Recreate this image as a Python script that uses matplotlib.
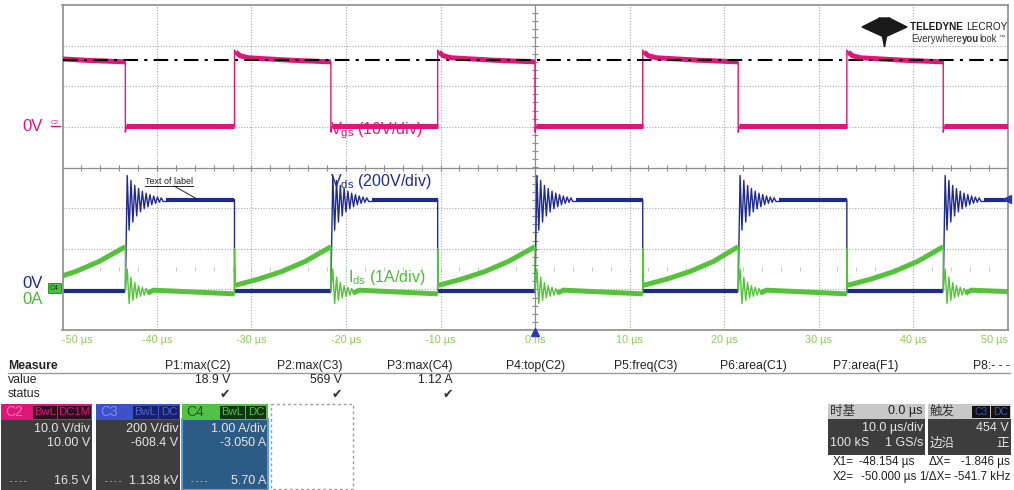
import numpy as np
import matplotlib
matplotlib.use('Agg')
import matplotlib.pyplot as plt
from matplotlib.patches import Rectangle, Polygon

plt.rcParams['font.family'] = ['Liberation Sans', 'DejaVu Sans']

## scope settings ##
ch_vdiv = {'C2': 10.0, 'C3': 200.0, 'C4': 1.0}
ch_offset = {'C2': 10.0, 'C3': -608.4, 'C4': -3.05}

time_ticks = [-50, -40, -30, -20, -10, 0, 10, 20, 30, 40, 50]
time_labels = ['-50 µs', '-40 µs', '-30 µs', '-20 µs', '-10 µs', '0 ns',
               '10 µs', '20 µs', '30 µs', '40 µs', '50 µs']

# switching edges in µs (Vds rise = turn-off, Vds fall = turn-on)
vds_fall = [-53.6, -31.8, -10.3, 11.4, 33.0]
vds_rise = [-43.35, -21.6, 0.0, 21.5, 43.2]

# Vgs (V) while on, time after turn-on (µs)
vgs_on_t = [0.0, 0.15, 0.6, 1.5, 3.0, 6.0]
vgs_on_v = [18.9, 18.4, 17.5, 17.0, 16.8, 16.4]
vgs_on_end = 16.0
vgs_off_level = 0.1
vgs_off_dip = -1.3
vgs_top = 16.5

# Vds (V): ringing after turn-off, one value every 0.2 µs, then plateau
vds_high = 450.0
vds_ring = [569, 300, 545, 340, 520, 370, 505, 390, 492, 405, 482, 415, 475,
            425, 468, 432, 463, 437, 459, 441]
ring_step = 0.2

# Ids (A): ramp while on, ringing after turn-off
ids_spike = 1.05
ids_ramp_t = [0.08, 2.5, 5.0, 7.5]
ids_ramp_v = [0.15, 0.30, 0.49, 0.74]
ids_peak = 1.10
ids_ring = [0.55, -0.30, 0.35, -0.22, 0.22, -0.16, 0.14, -0.12, 0.10, -0.09,
            0.07, -0.07]
ids_off_start = 0.03
ids_off_end = -0.06

# measurement table
meas_names = ['P1:max(C2)', 'P2:max(C3)', 'P3:max(C4)', 'P4:top(C2)',
              'P5:freq(C3)', 'P6:area(C1)', 'P7:area(F1)', 'P8:- - -']
meas_values = ['18.9 V', '569 V', '1.12 A', '', '', '', '', '']


def to_div(values, ch):
    return [(v + ch_offset[ch]) / ch_vdiv[ch] for v in values]


# thin = whole trace incl. edges and ringing, bands = noisy flat/ramp parts
traces = {k: {'t': [], 'v': [], 'bands': []} for k in ('vgs', 'vds', 'ids')}


def add(name, ts, vs):
    traces[name]['t'] += list(ts)
    traces[name]['v'] += list(vs)


def band(name, ts, vs):
    traces[name]['bands'].append((list(ts), list(vs)))


for i, (tf, tr) in enumerate(zip(vds_fall, vds_rise)):
    tn = vds_fall[i + 1] if i + 1 < len(vds_fall) else 56.0
    ring_end = tr + ring_step * len(vds_ring)
    iring_end = tr + ring_step * len(ids_ring)
    # gate
    on_t = [tf + r for r in vgs_on_t if tf + r < tr] + [tr]
    on_v = vgs_on_v[:len(on_t) - 1] + [vgs_on_end]
    add('vgs', [tf] + on_t + [tr, tr + 0.12, tn],
        [vgs_off_level] + on_v + [vgs_off_dip, vgs_off_level, vgs_off_level])
    band('vgs', on_t[1:], on_v[1:])
    band('vgs', [tr + 0.12, tn], [vgs_off_level, vgs_off_level])
    # drain voltage
    rt = [tr + ring_step * (k + 1) for k in range(len(vds_ring))]
    add('vds', [tf, tf, tr, tr] + rt + [tn], [vds_high, 0.0, 0.0, 0.0] + vds_ring + [vds_high])
    band('vds', [tf, tr], [0.0, 0.0])
    band('vds', [ring_end + 0.3, tn], [vds_high, vds_high])
    # drain current
    ramp_t = [tf + r for r in ids_ramp_t] + [tr]
    ramp_v = ids_ramp_v + [ids_peak]
    it = [tr + ring_step * (k + 1) for k in range(len(ids_ring))]
    add('ids', [tf, tf] + ramp_t + [tr] + it + [tr + 3.0, tn],
        [ids_off_end, ids_spike] + ramp_v + [0.0] + ids_ring + [ids_off_start, ids_off_end])
    band('ids', ramp_t, ramp_v)
    band('ids', [iring_end, tr + 3.0, tn], [ids_ring[-1] * 0.5, ids_off_start, ids_off_end])

W, H = 1014, 490
fig = plt.figure(figsize=(W / 100, H / 100), dpi=100)
fig.patch.set_facecolor('white')

x0, x1, y0, y1 = 62.5, 1007.5, 5, 330
ax = fig.add_axes([x0 / W, 1 - y1 / H, (x1 - x0) / W, (y1 - y0) / H])
ax.set_xlim(-50, 50)
ax.set_ylim(-4, 4)
ax.set_xticks([])
ax.set_yticks([])
for sp in ax.spines.values():
    sp.set_color('#8c8c8c')
    sp.set_linewidth(1.2)

# grid
for gx in range(-40, 50, 10):
    if gx != 0:
        ax.axvline(gx, color='#a8a8a8', lw=0.8, ls=(0, (1, 1.5)), zorder=1)
for gy in range(-3, 4):
    if gy != 0:
        ax.axhline(gy, color='#a8a8a8', lw=0.8, ls=(0, (1, 1.5)), zorder=1)
ax.axvline(0, color='#8c8c8c', lw=0.9, zorder=1)
ax.axhline(0, color='#8c8c8c', lw=0.9, zorder=1)
xt = np.arange(-48, 50, 2)
ax.plot(xt, np.zeros_like(xt), ls='none', marker='|', ms=5, mew=0.8, color='#8c8c8c', zorder=1)
yt = np.arange(-3.8, 4.0, 0.2)
ax.plot(np.zeros_like(yt), yt, ls='none', marker='_', ms=5, mew=0.8, color='#8c8c8c', zorder=1)
ax.plot(xt, np.full_like(xt, -2.5, dtype=float), ls='none', marker='|', ms=2.5, mew=0.7,
        color='#c8c8c8', zorder=1)

# traces
colors = {'vgs': '#e0157a', 'vds': '#1f2b8c', 'ids': '#56c23c'}
chans = {'vgs': 'C2', 'vds': 'C3', 'ids': 'C4'}
zs = {'vgs': 3, 'vds': 2, 'ids': 2.5}
band_lw = {'vgs': 3.6, 'vds': 3.0, 'ids': 3.6}
for name, tr_ in traces.items():
    ax.plot(tr_['t'], to_div(tr_['v'], chans[name]), color=colors[name], lw=1.0, zorder=zs[name])
    for bt, bv in tr_['bands']:
        ax.plot(bt, to_div(bv, chans[name]), color=colors[name], lw=band_lw[name],
                solid_capstyle='butt', zorder=zs[name])
ax.axhline(to_div([vgs_top], 'C2')[0], color='black', lw=1.5, ls=(0, (7, 3, 1.5, 3)), zorder=4)

# overlay in pixel coordinates
ov = fig.add_axes([0, 0, 1, 1], zorder=5)
ov.set_xlim(0, W)
ov.set_ylim(H, 0)
ov.axis('off')
ov.patch.set_alpha(0)
renderer = fig.canvas.get_renderer()


def box(xa, ya, xb, yb, fc, ec='none', lw=0, ls='-'):
    ov.add_patch(Rectangle((xa, ya), xb - xa, yb - ya, facecolor=fc, edgecolor=ec,
                           linewidth=lw, linestyle=ls))


def txt(x, y, s, ha='left', size=8.8, color='#222222', **kw):
    return ov.text(x, y, s, ha=ha, va='center', fontsize=size, color=color, **kw)


def fit_row(x, y, width, pieces, color):
    # pieces: (text, weight) drawn one after another and scaled to width
    arts = [txt(x, y, s, size=10, color=color, weight=w) for s, w in pieces]
    widths = [a.get_window_extent(renderer).width for a in arts]
    scale = width / sum(widths)
    cx = x
    for a, w in zip(arts, widths):
        a.set_fontsize(10 * scale)
        a.set_x(cx)
        cx += w * scale


# time labels
for t, lab in zip(time_ticks, time_labels):
    ha = 'left' if t == time_ticks[0] else 'right' if t == time_ticks[-1] else 'center'
    txt(x0 + (t + 50) * (x1 - x0) / 100, 340, lab, ha=ha, size=7.8, color='#8ccc5a')
ov.plot(535, 332, marker='^', ms=6, color='#2a3aa8')
ov.plot(1007, 199, marker='<', ms=6, color='#2a3aa8')

# trace labels
txt(330, 131, r'$\mathregular{V_{gs}}$ (10V/div)', size=11.5, color='#e0157a')
txt(330, 181, r'$\mathregular{V_{ds}}$ (200V/div)', size=11.5, color='#1f2b8c')
txt(348, 277, r'$\mathregular{I_{ds}}$ (1A/div)', size=11.5, color='#4cb83a')
txt(145, 181, 'Text of label', size=6.5, color='#222222')
ov.plot([145, 193], [186, 186], color='#222222', lw=0.7)
ov.plot([174, 197], [186, 199], color='#222222', lw=0.7)

# channel zero markers
txt(22, 126, '0V', size=12, color='#e0157a')
txt(22, 283, '0V', size=12, color='#1f2b8c')
txt(22, 299, '0A', size=12, color='#4cb83a')
txt(51, 122, 'C2', size=4.5, color='#e0157a')
ov.plot([51, 60], [126.5, 126.5], color='#e0157a', lw=1)
ov.add_patch(Rectangle((48, 283), 13, 10, facecolor='#4cc040', edgecolor='#2a7a2a', lw=0.6))
txt(54.5, 288, 'C4', ha='center', size=5, color='#123a12')

# logo
ov.add_patch(Polygon([(862, 27), (880, 18), (884, 37)], color='#1a1a1a'))
ov.add_patch(Polygon([(907, 27), (889, 18), (885, 37)], color='#1a1a1a'))
ov.add_patch(Polygon([(879, 18), (890, 18), (884.5, 47)], color='#1a1a1a'))
fit_row(910, 27, 97, [('TELEDYNE ', 'bold'), ('LECROY', 'normal')], '#1a1a1a')
fit_row(911, 39, 86, [('Everywhere', 'normal'), ('you', 'bold'), ('look', 'normal')], '#333333')
txt(998, 37, '™', size=4.5, color='#333333')

# measurement table
txt(8, 366, 'Measure', size=8.8, weight='bold')
col_right = [230, 342, 453, 565, 677, 787, 898, 1010]
for xr, name, val in zip(col_right, meas_names, meas_values):
    txt(xr, 366, name, ha='right')
    if val:
        txt(xr, 380, val, ha='right')
        txt(xr - 5, 394, '✔', ha='center', size=9, color='#333333', family='DejaVu Sans')
ov.plot([8, 1010], [373, 373], color='#9a9a9a', lw=1)
txt(8, 380, 'value')
txt(8, 394, 'status')

# channel descriptor boxes
channels = [
    ('C2', 1, 92, '#e0157a', '#f27ab4', '#2b0f1e', '#e0157a', ['BwL', 'DC1M'], [(33, 57), (58, 91)],
     '#3d3d3d', ['10.0 V/div', '10.00 V', '16.5 V']),
    ('C3', 96, 180, '#3c50c8', '#7a8ee8', '#18226a', '#4a62d8', ['BwL', 'DC'], [(133, 158), (159, 179)],
     '#3d3d3d', ['200 V/div', '-608.4 V', '1.138 kV']),
    ('C4', 182, 268, '#52c244', '#1e5a1e', '#123412', '#52c244', ['BwL', 'DC'], [(220, 245), (246, 266)],
     '#2c5b86', ['1.00 A/div', '-3.050 A', '5.70 A']),
]
for name, xa, xb, hc, nc, bc, btc, tags, tag_x, body, lines in channels:
    box(xa, 419, xb, 490, body, ec='#5aa0d8' if name == 'C4' else 'none', lw=1.5 if name == 'C4' else 0)
    box(xa, 404, xb, 420, hc)
    txt(xa + 4, 412, name, size=10, color=nc)
    for tag, (ta, tb) in zip(tags, tag_x):
        box(ta, 405.5, tb, 418.5, bc)
        txt((ta + tb) / 2, 412, tag, ha='center', size=8.2, color=btc)
    txt(xb - 2, 429, lines[0], ha='right', size=9, color='#e6e6e6')
    txt(xb - 2, 443, lines[1], ha='right', size=9, color='#e6e6e6')
    txt(xb - 2, 481, lines[2], ha='right', size=9, color='#e6e6e6')
    txt(xa + 9, 481, '- - - -', size=5.5, color='#e6e6e6')
box(271, 404, 353, 489, 'none', ec='#9a9a9a', lw=1, ls=(0, (2, 2)))

# timebase / trigger boxes
cjk = ['Noto Sans CJK SC', 'DejaVu Sans']
box(828, 404, 925, 455, '#3d3d3d')
box(828, 404, 925, 419, '#c8c8c8')
box(928, 404, 1011, 455, '#3d3d3d')
box(928, 404, 1011, 419, '#c8c8c8')
txt(830, 411, '时基', size=9, color='#333333', family=cjk)
txt(923, 411, '0.0 µs', ha='right', size=9, color='#222222')
txt(923, 428, '10.0 µs/div', ha='right', size=9, color='#e6e6e6')
txt(830, 443, '100 kS', size=9, color='#e6e6e6')
txt(923, 443, '1 GS/s', ha='right', size=9, color='#e6e6e6')
txt(930, 411, '触发', size=9, color='#333333', family=cjk)
box(972, 405.5, 990, 418, '#111111')
box(991, 405.5, 1010, 418, '#111111')
txt(981, 411.5, 'C3', ha='center', size=7.5, color='#3c50c8')
txt(1000.5, 411.5, 'DC', ha='center', size=7.5, color='#3c50c8')
txt(1009, 428, '454 V', ha='right', size=9, color='#e6e6e6')
txt(930, 443, '边沿', size=9, color='#e6e6e6', family=cjk)
txt(1009, 443, '正', ha='right', size=9, color='#e6e6e6', family=cjk)

txt(833, 462, 'X1=', size=8.4)
txt(914, 462, '-48.154 µs', ha='right', size=8.4)
txt(929, 462, 'ΔX=', size=8.4)
txt(1010, 462, '-1.846 µs', ha='right', size=8.4)
txt(833, 477, 'X2=', size=8.4)
txt(916, 477, '-50.000 µs', ha='right', size=8.4)
txt(919, 477, '1/ΔX=', size=8.4)
txt(1010, 477, '-541.7 kHz', ha='right', size=8.4)

fig.savefig('out.png', dpi=100)
